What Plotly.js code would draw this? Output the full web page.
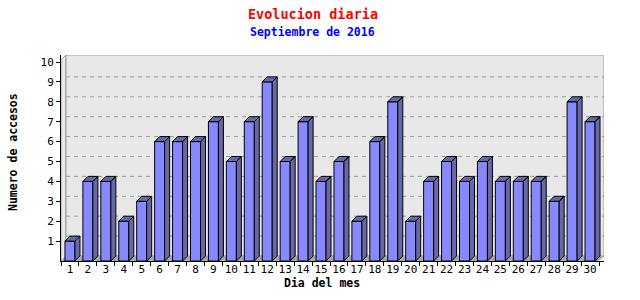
<!DOCTYPE html>
<html>
<head>
<meta charset="utf-8">
<script src="https://cdn.plot.ly/plotly-3.0.1.min.js"></script>
<style>html,body{margin:0;padding:0;background:#fff;}#chart{width:640px;height:300px;}</style>
</head>
<body>
<div id="chart"></div>
<script>
// ---- data ----
const days = [1,2,3,4,5,6,7,8,9,10,11,12,13,14,15,16,17,18,19,20,21,22,23,24,25,26,27,28,29,30];
const dayLabels = days.map(String);
const accesses = [1,4,4,2,3,6,6,6,7,5,7,9,5,7,4,5,2,6,8,2,4,5,4,5,4,4,4,3,8,7];
const yTickVals = [1,2,3,4,5,6,7,8,9,10];
const titleText = "Evolucion diaria";
const subtitleText = "Septiembre de 2016";
const xTitle = "Dia del mes";
const yTitle = "Numero de accesos";

// ---- geometry (pixels) ----
const L = 61, R = 604, T = 55, B = 261;
const plotW = R - L, plotH = B - T;
const DEPTH = 5;
const ppx = (plotW - DEPTH) / days.length;
const ppy = 19.9;
const dx = DEPTH / ppx, dy = DEPTH / ppy;
const xMin = 0.5, xFront = days.length + 0.5, xMax = xFront + dx;
const yMax = plotH / ppy;
const bw = 10 / ppx;

const FONT = "DejaVu Sans Mono";

// 3D side and top faces built from the data
const fx = [], fy = [];
days.forEach((c, i) => {
  const v = accesses[i], a = c - bw / 2, b = c + bw / 2;
  fx.push(b, b + dx, b + dx, b, b, null);
  fy.push(0, dy, v + dy, v, 0, null);
  fx.push(a, a + dx, b + dx, b, a, null);
  fy.push(v, v + dy, v + dy, v, v, null);
});

const traces = [
  {
    type: 'bar', x: days, y: accesses, width: bw,
    marker: {color: '#8888ff', line: {color: '#000', width: 1}},
    hoverinfo: 'x+y', showlegend: false
  },
  {
    type: 'scatter', mode: 'lines', x: fx, y: fy, fill: 'toself',
    fillcolor: '#6868a8', line: {color: '#000', width: 1},
    hoverinfo: 'skip', showlegend: false
  }
];

const shapes = [];
// left wall
shapes.push({type: 'path', layer: 'below', xref: 'x', yref: 'y',
  path: `M${xMin},0 L${xMin + dx},${dy} L${xMin + dx},${yMax} L${xMin},${yMax - dy} Z`,
  fillcolor: '#e8e8e8', line: {color: '#a0a0a0', width: 1}});
// back wall
shapes.push({type: 'path', layer: 'below', xref: 'x', yref: 'y',
  path: `M${xMin + dx},${dy} L${xMax},${dy} L${xMax},${yMax} L${xMin + dx},${yMax} Z`,
  fillcolor: '#e8e8e8', line: {color: '#999', width: 1}});
// floor
shapes.push({type: 'path', layer: 'below', xref: 'x', yref: 'y',
  path: `M${xMin},0 L${xMin + dx},${dy} L${xMax},${dy} L${xFront},0 Z`,
  fillcolor: '#a8a8a8', line: {width: 0}});
// dashed grid lines on back wall
yTickVals.slice(0, -1).forEach(k => {
  shapes.push({type: 'line', layer: 'below', xref: 'x', yref: 'y',
    x0: xMin + dx, x1: xMax, y0: k + dy, y1: k + dy,
    line: {color: '#999', width: 1, dash: '4px,4px'}});
});

const layout = {
  width: 640, height: 300,
  margin: {l: L, r: 640 - R, t: T, b: 300 - B, pad: 0},
  paper_bgcolor: '#fff', plot_bgcolor: '#fff',
  showlegend: false,
  bargap: 0,
  title: {text: titleText, x: 313 / 640, xref: 'container', xanchor: 'center',
    y: 1 - 14 / 300, yref: 'container', yanchor: 'middle',
    font: {family: FONT, size: 13.5, color: '#ff0000', weight: 'bold'}},
  xaxis: {
    range: [xMin, xMax], showgrid: false, zeroline: false,
    showline: true, linecolor: '#000', linewidth: 1,
    tickmode: 'array', tickvals: days, ticktext: dayLabels, ticks: '',
    ticklabelstandoff: -2,
    tickfont: {family: FONT, size: 11, color: '#000'},
    minor: {tick0: 0.5, dtick: 1, ticks: 'outside', ticklen: 4, tickcolor: '#000', tickwidth: 1, showgrid: false},
    fixedrange: true
  },
  yaxis: {
    range: [0, yMax], showgrid: false, zeroline: false,
    showline: true, linecolor: '#000', linewidth: 1,
    tickmode: 'array', tickvals: yTickVals, ticktext: yTickVals.map(String),
    ticks: 'outside', ticklen: 4, tickcolor: '#000',
    tickfont: {family: FONT, size: 11, color: '#000'},
    fixedrange: true
  },
  shapes: shapes,
  annotations: [
    {text: subtitleText, xref: 'paper', yref: 'paper', x: (312 - L) / plotW, y: (B - 32) / plotH,
      xanchor: 'center', yanchor: 'middle', showarrow: false,
      font: {family: FONT, size: 11.5, color: '#0000ff', weight: 'bold'}},
    {text: xTitle, xref: 'paper', yref: 'paper', x: (322 - L) / plotW, y: (B - 283) / plotH,
      xanchor: 'center', yanchor: 'middle', showarrow: false,
      font: {family: FONT, size: 11.5, color: '#000', weight: 'bold'}},
    {text: yTitle, xref: 'paper', yref: 'paper', x: (12.5 - L) / plotW, y: (B - 152.5) / plotH,
      xanchor: 'center', yanchor: 'middle', textangle: -90, showarrow: false,
      font: {family: FONT, size: 11.5, color: '#000', weight: 'bold'}}
  ]
};

Plotly.newPlot('chart', traces, layout, {displayModeBar: false, staticPlot: true});
</script>
</body>
</html>
